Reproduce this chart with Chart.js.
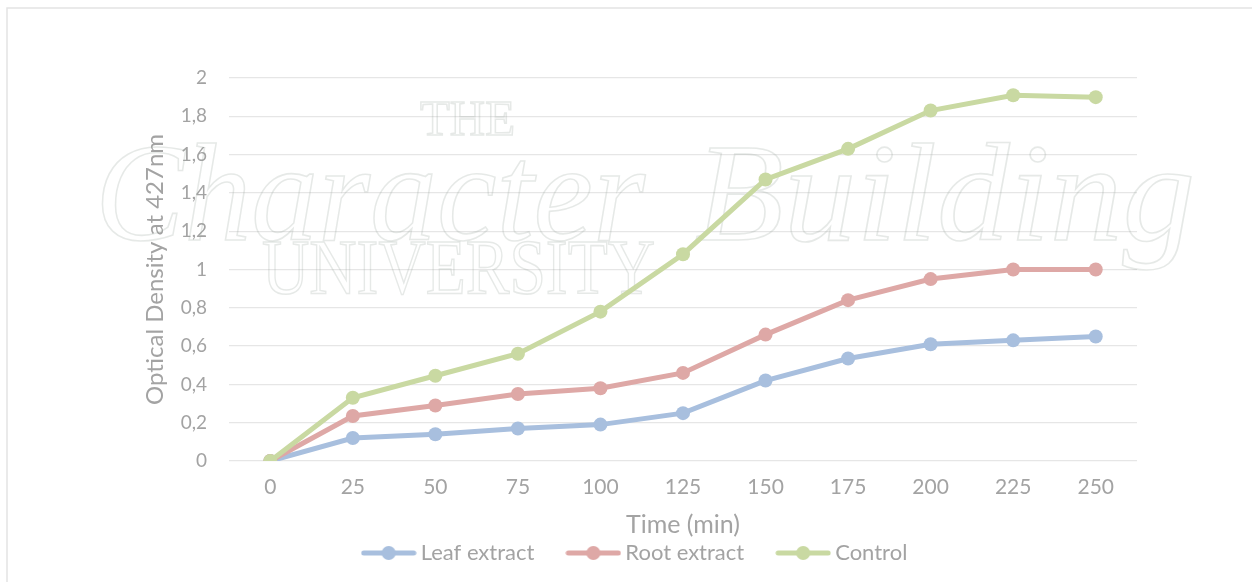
<!DOCTYPE html>
<html>
<head>
<meta charset="utf-8">
<script src="https://cdn.jsdelivr.net/npm/chart.js@4/dist/chart.umd.min.js"></script>
<style>
  html, body { margin: 0; padding: 0; background: #ffffff; }
  #wrap { position: relative; width: 1252px; height: 582px; }
  canvas { display: block; }
</style>
</head>
<body>
<div id="wrap"><canvas id="chart" width="1252" height="582"></canvas></div>
<script>
// Time points (minutes)
const timeLabels = ['0', '25', '50', '75', '100', '125', '150', '175', '200', '225', '250'];

// Optical density at 427 nm for each treatment
const leafExtract = [0, 0.12, 0.14, 0.17, 0.19, 0.25, 0.42, 0.535, 0.61, 0.63, 0.65];
const rootExtract = [0, 0.235, 0.29, 0.35, 0.38, 0.46, 0.66, 0.84, 0.95, 1.0, 1.0];
const control     = [0, 0.33, 0.445, 0.56, 0.78, 1.08, 1.47, 1.63, 1.83, 1.91, 1.90];

const seriesNames = ['Leaf extract', 'Root extract', 'Control'];
const seriesColors = ['#a8bfde', '#dea8a6', '#c9d9a2'];

const yMin = 0, yMax = 2, yStep = 0.2;

const textGrey = '#a3a3a3';
const fontFamily = 'Lato, "Open Sans", "Liberation Sans", sans-serif';

// Legend marker: a short line with a dot in the middle
function legendMarker(color) {
  const c = document.createElement('canvas');
  c.width = 56; c.height = 16;
  const g = c.getContext('2d');
  g.strokeStyle = color;
  g.lineWidth = 5;
  g.lineCap = 'round';
  g.beginPath(); g.moveTo(3, 8); g.lineTo(53, 8); g.stroke();
  g.fillStyle = color;
  g.beginPath(); g.arc(28, 8, 7, 0, Math.PI * 2); g.fill();
  return c;
}

// Outline text stretched to span [x0, x1] with its baseline at y
function spanText(ctx, text, font, x0, x1, y) {
  ctx.save();
  ctx.font = font;
  const w = ctx.measureText(text).width;
  ctx.translate(x0, y);
  ctx.scale((x1 - x0) / w, 1);
  ctx.strokeText(text, 0, 0);
  ctx.restore();
}

// Faint university emblem text behind the plot
const emblem = {
  id: 'emblem',
  beforeDatasetsDraw(chart) {
    const ctx = chart.ctx;
    ctx.save();
    ctx.strokeStyle = 'rgba(150,162,156,0.24)';
    ctx.lineWidth = 1.6;
    ctx.textBaseline = 'alphabetic';
    ctx.textAlign = 'left';
    spanText(ctx, 'THE', '50px "Liberation Serif", serif', 420, 515, 135);
    spanText(ctx, 'UNIVERSITY', '78px "Liberation Serif", serif', 262, 655, 293);
    spanText(ctx, 'Character', 'italic 140px "Liberation Serif", serif', 95, 645, 240);
    spanText(ctx, 'Building', 'italic 140px "Liberation Serif", serif', 695, 1195, 240);
    ctx.restore();
  }
};

// Thin frame along the top and left edges
const frame = {
  id: 'frame',
  beforeDraw(chart) {
    const ctx = chart.ctx;
    ctx.save();
    ctx.strokeStyle = '#e4e4e4';
    ctx.lineWidth = 1.5;
    ctx.beginPath();
    ctx.moveTo(7, 582);
    ctx.lineTo(7, 8);
    ctx.lineTo(1252, 8);
    ctx.stroke();
    ctx.restore();
  }
};

const datasetsData = [leafExtract, rootExtract, control];
const datasets = datasetsData.map((vals, i) => ({
  label: seriesNames[i],
  data: vals,
  borderColor: seriesColors[i],
  backgroundColor: seriesColors[i],
  pointBackgroundColor: seriesColors[i],
  pointBorderColor: seriesColors[i],
  borderWidth: 5,
  pointRadius: 7,
  pointBorderWidth: 0,
  tension: 0,
  order: 3 - i
}));

new Chart(document.getElementById('chart'), {
  type: 'line',
  data: { labels: timeLabels, datasets },
  plugins: [frame, emblem],
  options: {
    responsive: false,
    animation: false,
    devicePixelRatio: 1,
    layout: { padding: { left: 138, right: 115, top: 78, bottom: 8 } },
    plugins: {
      tooltip: { enabled: false },
      legend: {
        position: 'bottom',
        labels: {
          color: textGrey,
          font: { family: fontFamily, size: 22 },
          usePointStyle: true,
          pointStyleWidth: 42,
          padding: 38,
          generateLabels(chart) {
            return chart.data.datasets.map((ds, i) => ({
              text: ds.label,
              fillStyle: ds.borderColor,
              strokeStyle: ds.borderColor,
              fontColor: textGrey,
              lineWidth: 0,
              pointStyle: legendMarker(ds.borderColor),
              datasetIndex: i,
              hidden: false
            }));
          }
        }
      }
    },
    scales: {
      x: {
        type: 'category',
        offset: true,
        grid: { display: false, drawTicks: false },
        border: { display: false },
        ticks: {
          color: textGrey,
          font: { family: fontFamily, size: 21 },
          padding: 14,
          maxRotation: 0
        },
        title: {
          display: true,
          text: 'Time (min)',
          color: textGrey,
          font: { family: fontFamily, size: 25 },
          padding: { top: 0, bottom: -36 }
        },
        afterFit(scale) { scale.height = 43; }
      },
      y: {
        min: yMin,
        max: yMax,
        grid: { color: '#e6e6e6', lineWidth: 1.3, drawTicks: false },
        border: { display: false },
        ticks: {
          stepSize: yStep,
          color: textGrey,
          font: { family: fontFamily, size: 19 },
          padding: 22,
          callback(v) { return String(Math.round(v * 10) / 10).replace('.', ','); }
        },
        title: {
          display: true,
          text: 'Optical Density at 427nm',
          color: textGrey,
          font: { family: fontFamily, size: 24 },
          padding: { top: 3, bottom: 4 }
        },
        afterFit(scale) { scale.width = 91; }
      }
    }
  }
});
</script>
</body>
</html>
